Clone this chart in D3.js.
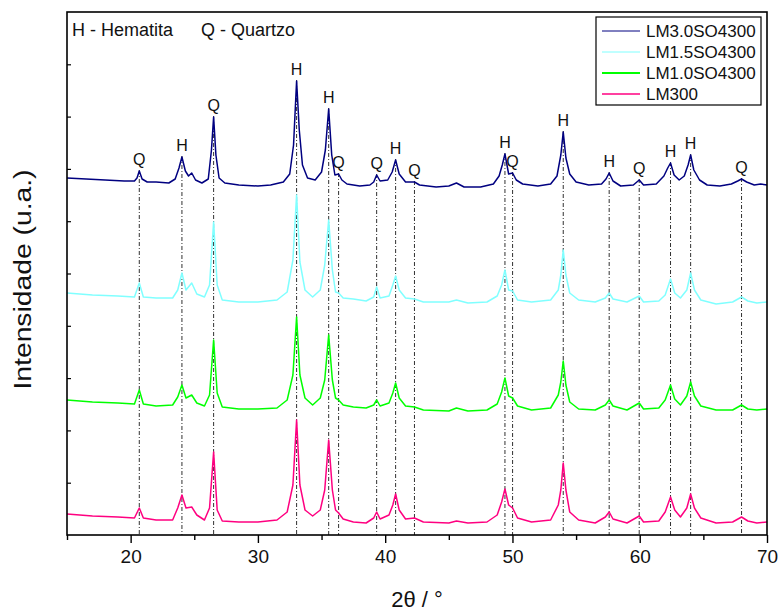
<!DOCTYPE html>
<html>
<head>
<meta charset="utf-8">
<script src="https://cdn.jsdelivr.net/npm/d3@7/dist/d3.min.js"></script>
<style>
  html, body { margin: 0; padding: 0; background: #fff; }
  svg { display: block; }
  text { font-family: "Liberation Sans", Arial, sans-serif; fill: #111; }
</style>
</head>
<body>
<svg id="chart" width="780" height="613"></svg>
<script>
// XRD patterns, 2θ (degrees) vs. intensity (a.u.), stacked with vertical offsets
const seriesNames = ["LM3.0SO4300", "LM1.5SO4300", "LM1.0SO4300", "LM300"];
const seriesColors = ["#000080", "#80ffff", "#00ff00", "#ff0080"];
const legendWidths = [1, 1, 2, 1.5];
const seriesOffsets = [700, 470, 250, 24];

const lm30 = [
  [15.0,14],[16.5,12],[18.0,10],[19.5,8],[20.3,8],[20.5,14],[20.68,28],[20.9,12],[21.3,6],[22.0,6],
  [23.0,4],[23.5,12],[23.8,34],[24.03,56],[24.3,28],[24.55,18],[24.8,24],[25.1,10],[25.6,4],[26.1,12],
  [26.35,70],[26.52,136],[26.7,60],[26.95,14],[27.4,4],[28.5,0],[30.0,-2],[31.0,0],[32.0,6],[32.5,22],
  [32.8,80],[33.04,208],[33.25,110],[33.5,40],[33.9,14],[34.5,10],[35.0,26],[35.3,70],[35.56,152],[35.8,60],
  [36.05,20],[36.34,22],[36.6,10],[37.0,2],[38.0,-2],[38.8,0],[39.1,6],[39.33,20],[39.6,8],[40.2,10],
  [40.55,26],[40.82,50],[41.1,22],[41.6,6],[42.3,6],[42.7,0],[44.0,-4],[45.0,-2],[45.6,4],[46.2,-4],
  [47.5,-4],[48.5,2],[48.95,18],[49.2,40],[49.41,62],[49.7,22],[50.01,24],[50.3,10],[50.8,2],[52.0,-2],
  [53.0,2],[53.5,18],[53.8,60],[53.99,106],[54.2,54],[54.5,22],[55.0,6],[56.0,0],[57.0,2],[57.35,12],
  [57.6,24],[57.9,8],[58.5,-2],[59.5,0],[59.96,10],[60.3,0],[61.3,2],[61.9,18],[62.2,34],[62.42,44],
  [62.7,20],[63.1,10],[63.5,18],[63.8,40],[64.0,60],[64.25,30],[64.7,10],[65.3,0],[66.3,-2],[67.2,2],
  [67.7,8],[68.0,12],[68.4,6],[69.0,0],[69.5,2],[70.0,0]
];

const lm15 = [
  [15.0,14],[17.0,10],[19.0,8],[20.3,6],[20.68,34],[21.0,6],[22.0,4],[23.3,4],[23.7,20],[24.03,54],
  [24.35,20],[24.8,34],[25.2,12],[25.8,6],[26.2,30],[26.52,156],[26.8,30],[27.2,0],[28.5,-4],[30.0,-4],
  [31.5,0],[32.3,16],[32.75,80],[33.04,210],[33.3,76],[33.7,20],[34.3,6],[34.9,20],[35.25,70],[35.56,160],
  [35.85,60],[36.1,16],[36.34,14],[36.7,4],[37.5,2],[38.5,-2],[39.1,6],[39.33,26],[39.6,4],[40.3,8],
  [40.6,30],[40.82,48],[41.1,20],[41.6,4],[42.3,2],[43.0,-4],[45.0,-4],[45.6,0],[46.5,-6],[48.0,-4],
  [48.8,8],[49.15,30],[49.41,60],[49.7,20],[50.01,18],[50.4,0],[51.5,-4],[53.0,0],[53.6,20],[53.8,50],
  [53.99,100],[54.2,50],[54.5,14],[55.2,0],[56.5,-4],[57.3,4],[57.6,14],[57.9,2],[59.0,-4],[59.96,8],
  [60.3,-4],[61.5,-2],[62.0,10],[62.42,42],[62.75,14],[63.2,4],[63.7,20],[64.0,54],[64.3,20],[64.8,0],
  [66.0,-8],[67.3,-4],[68.0,6],[68.5,-2],[69.2,-6],[70.0,-4]
];

const lm10 = [
  [15.0,20],[17.0,16],[19.0,14],[20.3,12],[20.68,40],[21.0,12],[22.0,8],[23.3,10],[23.7,26],[24.03,50],
  [24.35,24],[24.8,30],[25.2,14],[25.8,8],[26.2,30],[26.52,140],[26.8,34],[27.2,6],[28.5,2],[30.0,2],
  [31.5,4],[32.3,20],[32.75,70],[33.04,186],[33.3,70],[33.7,24],[34.3,10],[34.9,24],[35.25,60],[35.56,150],
  [35.85,60],[36.1,24],[36.34,20],[36.7,10],[37.5,6],[38.5,4],[39.1,10],[39.33,20],[39.6,8],[40.3,14],
  [40.6,34],[40.82,54],[41.1,24],[41.6,8],[42.3,6],[43.0,0],[45.0,-2],[45.6,4],[46.5,-2],[48.0,0],
  [48.8,12],[49.15,36],[49.41,64],[49.7,28],[50.01,24],[50.4,8],[51.5,0],[53.0,4],[53.6,30],[53.8,56],
  [53.99,98],[54.2,50],[54.5,16],[55.2,2],[56.5,0],[57.3,10],[57.6,20],[57.9,8],[59.0,0],[59.96,14],
  [60.3,2],[61.5,4],[62.0,20],[62.42,50],[62.75,22],[63.2,10],[63.7,28],[64.0,56],[64.3,28],[64.8,8],
  [66.0,0],[67.3,0],[68.0,10],[68.5,2],[69.2,0],[70.0,2]
];

const lm300 = [
  [15.0,18],[17.0,14],[19.0,12],[20.3,10],[20.68,30],[21.0,10],[22.0,6],[23.3,6],[23.7,30],[24.03,56],
  [24.35,30],[24.8,32],[25.2,16],[25.8,6],[26.2,30],[26.52,142],[26.8,26],[27.2,4],[28.5,2],[30.0,2],
  [31.5,6],[32.3,22],[32.75,76],[33.04,206],[33.3,76],[33.7,26],[34.3,14],[34.9,26],[35.25,66],[35.56,166],
  [35.85,66],[36.1,26],[36.34,20],[36.7,8],[37.5,2],[38.5,0],[39.1,10],[39.33,22],[39.6,8],[40.3,16],
  [40.6,36],[40.82,58],[41.1,26],[41.6,8],[42.3,10],[43.0,2],[45.0,0],[45.6,4],[46.5,0],[48.0,2],
  [48.8,16],[49.15,42],[49.41,68],[49.7,36],[50.01,30],[50.4,10],[51.5,2],[53.0,6],[53.6,36],[53.8,66],
  [53.99,120],[54.2,66],[54.5,22],[55.2,6],[56.5,0],[57.3,12],[57.6,22],[57.9,8],[59.0,0],[59.96,14],
  [60.3,2],[61.5,4],[62.0,22],[62.42,52],[62.75,26],[63.2,12],[63.7,30],[64.0,58],[64.3,30],[64.8,10],
  [66.0,0],[67.3,2],[68.0,12],[68.5,4],[69.2,0],[70.0,2]
];

const seriesData = [lm30, lm15, lm10, lm300];

// Reflections marked on the top pattern (H = hematite, Q = quartz)
const peakPositions = [20.68, 24.03, 26.52, 33.04, 35.56, 36.34, 39.33, 40.82, 42.30,
                       49.41, 50.01, 53.99, 57.60, 59.96, 62.42, 64.00, 68.00];
const peakPhases = ["Q", "H", "Q", "H", "H", "Q", "Q", "H", "Q",
                    "H", "Q", "H", "H", "Q", "H", "H", "Q"];

const xMajorTicks = [20, 30, 40, 50, 60, 70];
const xMinorTicks = [15, 25, 35, 45, 55, 65];

const svg = d3.select("#chart");
const plotLeft = 67, plotRight = 767, plotTop = 12, plotBottom = 535;

const x = d3.scaleLinear().domain([15, 70]).range([plotLeft, plotRight]);
const y = d3.scaleLinear().domain([0, 1046]).range([plotBottom, plotTop]);

// dash-dot guide lines at each marked reflection
const top30 = lm30.map(d => [d[0], d[1] + seriesOffsets[0]]);
function peakValue(pos) {
  let best = -Infinity;
  top30.forEach(d => { if (Math.abs(d[0] - pos) < 0.12) best = Math.max(best, d[1]); });
  return best;
}

const guides = svg.append("g");
peakPositions.forEach((p, i) => {
  const yp = y(peakValue(p));
  guides.append("line")
    .attr("x1", x(p)).attr("x2", x(p))
    .attr("y1", yp - 1).attr("y2", plotBottom)
    .attr("stroke", "#1a1a1a").attr("stroke-width", 0.9)
    .attr("stroke-dasharray", "4,2,1,2");
  svg.append("text")
    .attr("x", x(p)).attr("y", yp - 6)
    .attr("text-anchor", "middle")
    .attr("font-size", 16)
    .text(peakPhases[i]);
});

// patterns
const line = d3.line().x(d => x(d[0]));
const order = [3, 2, 1, 0];
order.forEach(k => {
  const off = seriesOffsets[k];
  svg.append("path")
    .datum(seriesData[k])
    .attr("fill", "none")
    .attr("stroke", seriesColors[k])
    .attr("stroke-width", 1.5)
    .attr("stroke-linejoin", "round")
    .attr("d", line.y(d => y(d[1] + off)));
});

// frame
svg.append("rect")
  .attr("x", plotLeft).attr("y", plotTop)
  .attr("width", plotRight - plotLeft).attr("height", plotBottom - plotTop)
  .attr("fill", "none").attr("stroke", "#000").attr("stroke-width", 1.6);

// x axis
const xAxis = d3.axisBottom(x).tickValues(xMajorTicks).tickSize(8).tickPadding(7)
  .tickFormat(d3.format("d"));
const gx = svg.append("g").attr("transform", `translate(0,${plotBottom})`).call(xAxis);
gx.select(".domain").remove();
gx.selectAll(".tick line").attr("stroke", "#000").attr("stroke-width", 1.4);
gx.selectAll(".tick text").attr("font-size", 19).attr("font-family", "Liberation Sans, Arial, sans-serif").attr("fill", "#111");
const gxm = svg.append("g").attr("transform", `translate(0,${plotBottom})`)
  .call(d3.axisBottom(x).tickValues(xMinorTicks).tickSize(5).tickFormat(""));
gxm.select(".domain").remove();
gxm.selectAll(".tick line").attr("stroke", "#000").attr("stroke-width", 1.4);

// y axis: inward ticks, no labels
const gy = svg.append("g").attr("transform", `translate(${plotLeft},0)`)
  .call(d3.axisRight(y).tickValues(d3.range(1, 10).map(i => i * 104.6)).tickSize(4).tickFormat(""));
gy.select(".domain").remove();
gy.selectAll(".tick line").attr("stroke", "#000").attr("stroke-width", 1.2);

// axis titles
svg.append("text")
  .attr("x", (plotLeft + plotRight) / 2).attr("y", 607)
  .attr("text-anchor", "middle").attr("font-size", 22)
  .text("2θ / °");
svg.append("text")
  .attr("transform", `translate(31,${(plotTop + plotBottom) / 2 + 6}) rotate(-90)`)
  .attr("text-anchor", "middle").attr("font-size", 23)
  .attr("textLength", 220).attr("lengthAdjust", "spacingAndGlyphs")
  .text("Intensidade (u.a.)");

// phase key
svg.append("text").attr("x", 72).attr("y", 36).attr("font-size", 18).text("H - Hematita");
svg.append("text").attr("x", 201).attr("y", 36).attr("font-size", 18).text("Q - Quartzo");

// legend
const lg = svg.append("g");
lg.append("rect").attr("x", 596).attr("y", 17).attr("width", 165).attr("height", 88)
  .attr("fill", "#fff").attr("stroke", "#000").attr("stroke-width", 1.2);
seriesNames.forEach((name, i) => {
  const ry = 31 + i * 21;
  lg.append("line").attr("x1", 602).attr("x2", 640).attr("y1", ry).attr("y2", ry)
    .attr("stroke", seriesColors[i]).attr("stroke-width", legendWidths[i]);
  lg.append("text").attr("x", 646).attr("y", ry + 6).attr("font-size", 17).text(name);
});
</script>
</body>
</html>
